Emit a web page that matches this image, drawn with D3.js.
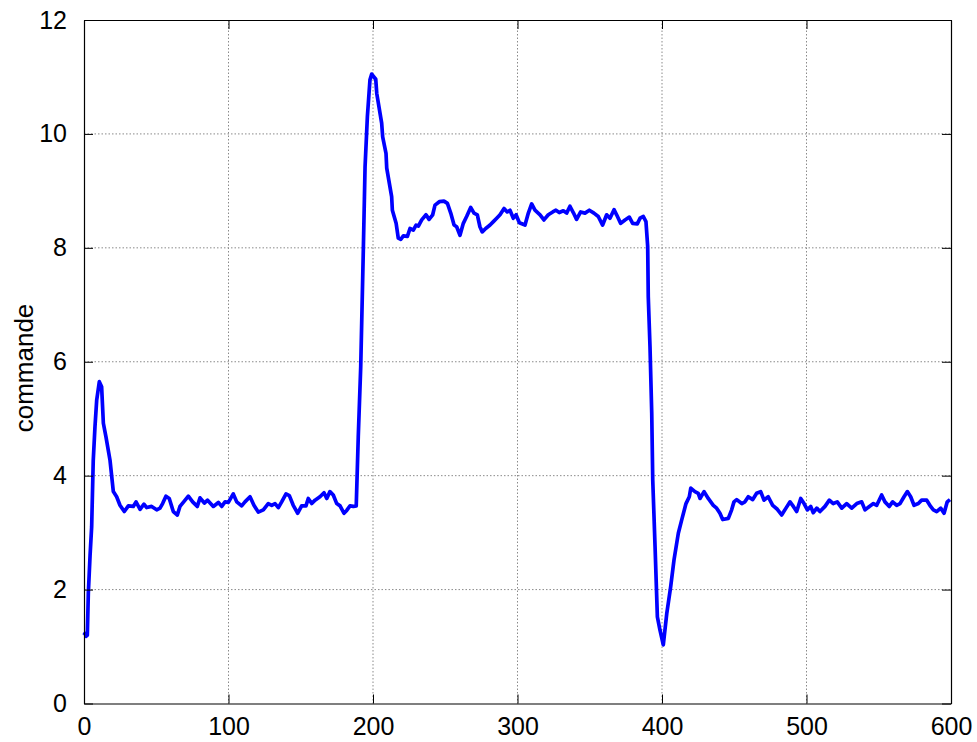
<!DOCTYPE html>
<html>
  <head>
    <title>commande</title>
    <style>
      body { margin: 0; background: #fff; }
      .chart-area text { font-family: Arial, "Liberation Sans", sans-serif; fill: #000; }
    </style>
  </head>

  <body>
    <div class="chart-area"></div>

    <script src="https://d3js.org/d3.v7.min.js"></script>
    <script>
        var time = [0, 0.7, 1.5, 2.3, 3.0, 4.2, 5.3, 6.4, 7.6, 8.8, 10.6, 12.2, 13.4, 15.2, 18.0, 20.3, 22.6, 24.9, 27.9,
            30.7, 34.1, 36.0, 38.8, 41.5, 43.4, 46.8, 50.3, 52.6, 54.4, 56.7, 59.0, 61.8, 64.6, 66.4, 68.7, 72.2, 75.2, 78.4,
            80.3, 83.3, 85.5, 89.5, 93.0, 95.3, 97.6, 99.9, 103.3, 105.7, 109.1, 111.4, 114.9, 117.6, 120.6, 124.1, 127.5,
            129.9, 132.2, 134.5, 136.8, 139.8, 142.1, 144.8, 147.9, 150.6, 153.6, 155.2, 157.6, 159.9, 163.3, 166.1, 168.0,
            170.2, 172.5, 174.9, 177.2, 179.9, 181.8, 184.1, 186.4, 188.4, 189.8, 191.5, 193.3, 194.5, 196.1, 197.9, 199.1,
            201.9, 202.6, 206.0, 206.7, 209.0, 209.5, 212.9, 213.4, 216.0, 217.5, 219.2, 221.0, 223.8, 225.6, 227.9, 229.8,
            231.4, 233.7, 236.7, 238.8, 241.3, 242.9, 245.9, 249.1, 251.5, 253.8, 256.1, 257.9, 260.2, 262.5, 264.8, 267.6,
            269.9, 272.2, 274.0, 275.6, 278.0, 281.0, 283.3, 285.6, 287.9, 290.7, 292.9, 294.8, 297.1, 299.0, 301.3, 305.2,
            307.5, 309.8, 312.1, 315.6, 318.3, 321.3, 324.4, 326.6, 328.9, 331.7, 334.0, 336.3, 338.6, 340.9, 343.7, 346.7,
            349.7, 352.9, 355.9, 358.9, 361.7, 364.0, 366.8, 368.6, 371.4, 374.4, 377.4, 379.7, 382.9, 384.8, 387.1, 388.9,
            390.1, 390.5, 391.7, 392.9, 393.6, 395.2, 396.8, 398.6, 400.9, 403.3, 406.0, 408.3, 411.3, 413.6, 416.6, 418.9,
            419.9, 422.8, 425.1, 426.3, 429.1, 432.0, 435.5, 437.8, 440.1, 442.0, 445.9, 448.2, 449.8, 451.7, 455.2, 457.4,
            459.7, 462.8, 465.5, 468.3, 470.6, 473.5, 476.6, 479.8, 482.8, 485.8, 488.6, 490.9, 493.2, 496.0, 498.3, 500.6,
            502.9, 504.7, 507.1, 509.3, 512.8, 515.8, 518.5, 521.3, 524.4, 527.8, 531.3, 534.8, 538.2, 540.5, 543.5, 546.3,
            548.6, 552.0, 554.3, 557.3, 559.6, 562.4, 564.7, 567.5, 569.8, 572.1, 574.4, 577.4, 579.7, 583.2, 585.9, 587.8,
            590.1, 592.9, 595.2, 597.4, 599.3];

        var commande = [1.20, 1.23, 1.18, 1.20, 1.94, 2.60, 3.10, 4.27, 4.86, 5.33, 5.65, 5.56, 4.92, 4.68, 4.27, 3.72, 3.63, 3.48, 3.37,
            3.47, 3.46, 3.54, 3.41, 3.50, 3.44, 3.46, 3.40, 3.43, 3.51, 3.64, 3.60, 3.37, 3.31, 3.46, 3.53, 3.64, 3.54, 3.46,
            3.61, 3.52, 3.57, 3.46, 3.53, 3.46, 3.54, 3.53, 3.68, 3.54, 3.47, 3.54, 3.63, 3.48, 3.36, 3.40, 3.51,
            3.48, 3.51, 3.44, 3.54, 3.68, 3.65, 3.48, 3.34, 3.47, 3.47, 3.60, 3.51, 3.57, 3.63, 3.70, 3.60,
            3.72, 3.66, 3.51, 3.47, 3.34, 3.39, 3.47, 3.46, 3.47, 4.68, 5.91, 7.96, 9.42, 10.30, 10.95, 11.05,
            10.96, 10.71, 10.19, 9.95, 9.66, 9.40, 8.90, 8.66, 8.43, 8.17, 8.15, 8.21, 8.20, 8.34, 8.31, 8.40,
            8.38, 8.49, 8.58, 8.50, 8.58, 8.75, 8.81, 8.82, 8.78, 8.61, 8.40, 8.37, 8.22, 8.43, 8.55, 8.71,
            8.61, 8.58, 8.37, 8.28, 8.34, 8.40, 8.46, 8.52, 8.58, 8.69, 8.63, 8.66, 8.52, 8.58, 8.44, 8.40,
            8.61, 8.77, 8.66, 8.58, 8.49, 8.58, 8.63, 8.66, 8.62, 8.65, 8.61, 8.73, 8.62, 8.50, 8.63, 8.61,
            8.66, 8.61, 8.55, 8.40, 8.58, 8.52, 8.67, 8.58, 8.43, 8.49, 8.54, 8.43, 8.42, 8.52, 8.55, 8.46,
            8.02, 7.14, 6.26, 5.09, 3.92, 2.75, 1.52, 1.29, 1.03, 1.58, 2.05, 2.52, 2.99, 3.22, 3.51, 3.63,
            3.78, 3.72, 3.69, 3.60, 3.72, 3.60, 3.48, 3.43, 3.34, 3.23, 3.25, 3.40, 3.54, 3.58, 3.51, 3.54,
            3.63, 3.58, 3.69, 3.72, 3.57, 3.63, 3.48, 3.41, 3.31, 3.43, 3.54, 3.46, 3.37, 3.60, 3.51, 3.40,
            3.46, 3.35, 3.43, 3.37, 3.46, 3.57, 3.51, 3.54, 3.43, 3.51, 3.43, 3.51, 3.54, 3.40, 3.46, 3.51,
            3.48, 3.66, 3.54, 3.46, 3.54, 3.48, 3.51, 3.63, 3.72, 3.63, 3.48, 3.51, 3.57, 3.57, 3.46, 3.40,
            3.37, 3.43, 3.34, 3.54, 3.58];

        var xTicks = [0, 100, 200, 300, 400, 500, 600];
        var yTicks = [0, 2, 4, 6, 8, 10, 12];
        var yLabel = "commande";

        // set the dimensions and margins of the graph
        var margin = {top: 20, right: 26, bottom: 38.5, left: 84},
            width = 977 - margin.left - margin.right,
            height = 742 - margin.top - margin.bottom;

        var svg = d3.select(".chart-area")
          .append("svg")
            .attr("width", 977)
            .attr("height", 742)
          .append("g")
            .attr("transform", "translate(" + margin.left + "," + margin.top + ")");

        var x = d3.scaleLinear().domain([0, 600]).range([0, width]);
        var y = d3.scaleLinear().domain([0, 12]).range([height, 0]);

        // dotted grid
        var grid = svg.append("g")
            .attr("stroke", "#8a8a8a")
            .attr("stroke-width", 1)
            .attr("stroke-dasharray", "1.5,2");
        grid.selectAll(".vg")
            .data(xTicks.slice(1, -1))
            .enter().append("line")
            .attr("x1", d => x(d)).attr("x2", d => x(d))
            .attr("y1", 0).attr("y2", height);
        grid.selectAll(".hg")
            .data(yTicks.slice(1, -1))
            .enter().append("line")
            .attr("y1", d => y(d)).attr("y2", d => y(d))
            .attr("x1", 0).attr("x2", width);

        // the signal
        var line = d3.line()
            .x((d, i) => x(time[i]))
            .y(d => y(d));

        svg.append("path")
            .datum(commande)
            .attr("fill", "none")
            .attr("stroke", "#0000ff")
            .attr("stroke-width", 3.7)
            .attr("stroke-linejoin", "round")
            .attr("d", line);

        // axes, ticks pointing inward on all four sides
        var tickLen = 9;
        function styleAxis(g) {
            g.select(".domain").attr("stroke", "#000").attr("stroke-width", 1.2);
            g.selectAll(".tick line").attr("stroke", "#000").attr("stroke-width", 1);
            g.selectAll("text").style("font-size", "25px");
        }

        svg.append("g")
            .attr("transform", "translate(0," + height + ")")
            .call(d3.axisBottom(x).tickValues(xTicks).tickSize(-tickLen).tickSizeOuter(0).tickPadding(14))
            .call(styleAxis);

        svg.append("g")
            .call(d3.axisTop(x).tickValues(xTicks).tickSize(-tickLen).tickSizeOuter(0).tickFormat(""))
            .call(styleAxis);

        svg.append("g")
            .call(d3.axisLeft(y).tickValues(yTicks).tickSize(-tickLen).tickSizeOuter(0).tickPadding(17))
            .call(styleAxis);

        svg.append("g")
            .attr("transform", "translate(" + width + ",0)")
            .call(d3.axisRight(y).tickValues(yTicks).tickSize(-tickLen).tickSizeOuter(0).tickFormat(""))
            .call(styleAxis);

        // y label
        svg.append("text")
            .attr("transform", "translate(" + (33 - margin.left) + "," + (368 - margin.top) + ") rotate(-90)")
            .attr("text-anchor", "middle")
            .style("font-size", "26px")
            .text(yLabel);
    </script>
  </body>
</html>
